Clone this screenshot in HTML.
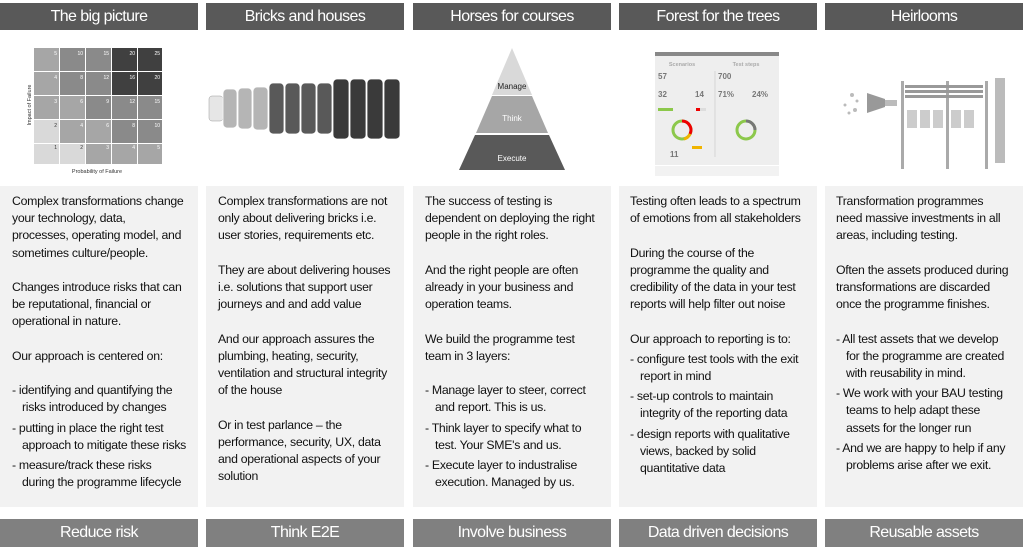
<!DOCTYPE html>
<html><head><meta charset="utf-8"><style>
body{margin:0;width:1024px;height:553px;background:#fff;position:relative;overflow:hidden;font-family:"Liberation Sans",Arial,sans-serif;}
.h,.f{position:absolute;width:198px;height:27px;color:#fff;font-size:16px;text-align:center;line-height:27px;letter-spacing:-0.6px}
.h{top:3px;background:#595959}
.f{top:519px;height:28px;line-height:28px;background:#808080}
.p{position:absolute;top:186px;width:198px;height:321px;background:#f2f2f2}
.t{position:absolute;top:193px;width:190px;font-size:12.3px;line-height:17.2px;color:#111;letter-spacing:-0.3px;white-space:nowrap}
.t p{margin:0 0 17.2px 0}
.t .b{padding-left:10px;text-indent:-10px;margin:0 0 3px 0}
</style></head><body>
<div class="h" style="left:0">The big picture</div>
<div class="h" style="left:206px">Bricks and houses</div>
<div class="h" style="left:413px">Horses for courses</div>
<div class="h" style="left:619px">Forest for the trees</div>
<div class="h" style="left:825px">Heirlooms</div>

<svg style="position:absolute;left:0;top:35px" width="200" height="145">
<g font-size="5" fill="#fff" text-anchor="end" font-family="Liberation Sans">
<rect x="34" y="13" width="128" height="116" fill="#fff"/>
<rect x="34" y="13" width="25" height="23" fill="#a6a6a6"/><rect x="60" y="13" width="25" height="23" fill="#8a8a8a"/><rect x="86" y="13" width="25" height="23" fill="#8a8a8a"/><rect x="112" y="13" width="25" height="23" fill="#404040"/><rect x="138" y="13" width="24" height="23" fill="#404040"/>
<rect x="34" y="37" width="25" height="23" fill="#a6a6a6"/><rect x="60" y="37" width="25" height="23" fill="#8a8a8a"/><rect x="86" y="37" width="25" height="23" fill="#8a8a8a"/><rect x="112" y="37" width="25" height="23" fill="#404040"/><rect x="138" y="37" width="24" height="23" fill="#404040"/>
<rect x="34" y="61" width="25" height="23" fill="#a6a6a6"/><rect x="60" y="61" width="25" height="23" fill="#a6a6a6"/><rect x="86" y="61" width="25" height="23" fill="#8a8a8a"/><rect x="112" y="61" width="25" height="23" fill="#8a8a8a"/><rect x="138" y="61" width="24" height="23" fill="#8a8a8a"/>
<rect x="34" y="85" width="25" height="23" fill="#d9d9d9"/><rect x="60" y="85" width="25" height="23" fill="#a6a6a6"/><rect x="86" y="85" width="25" height="23" fill="#a6a6a6"/><rect x="112" y="85" width="25" height="23" fill="#8a8a8a"/><rect x="138" y="85" width="24" height="23" fill="#8a8a8a"/>
<rect x="34" y="109" width="25" height="20" fill="#d9d9d9"/><rect x="60" y="109" width="25" height="20" fill="#d9d9d9"/><rect x="86" y="109" width="25" height="20" fill="#a6a6a6"/><rect x="112" y="109" width="25" height="20" fill="#a6a6a6"/><rect x="138" y="109" width="24" height="20" fill="#a6a6a6"/>
<text x="57" y="20">5</text><text x="83" y="20">10</text><text x="109" y="20">15</text><text x="135" y="20">20</text><text x="160" y="20">25</text>
<text x="57" y="44">4</text><text x="83" y="44">8</text><text x="109" y="44">12</text><text x="135" y="44">16</text><text x="160" y="44">20</text>
<text x="57" y="68">3</text><text x="83" y="68">6</text><text x="109" y="68">9</text><text x="135" y="68">12</text><text x="160" y="68">15</text>
<text x="57" y="92" fill="#333">2</text><text x="83" y="92">4</text><text x="109" y="92">6</text><text x="135" y="92">8</text><text x="160" y="92">10</text>
<text x="57" y="114" fill="#333">1</text><text x="83" y="114" fill="#333">2</text><text x="109" y="114">3</text><text x="135" y="114">4</text><text x="160" y="114">5</text>
</g>
<text x="97" y="138" font-size="5.5" text-anchor="middle" fill="#333" font-family="Liberation Sans">Probability of Failure</text>
<text transform="translate(31,70) rotate(-90)" font-size="5.5" text-anchor="middle" fill="#333" font-family="Liberation Sans">Impact of Failure</text>
</svg>

<svg style="position:absolute;left:206px;top:35px" width="200" height="145">
<rect x="3" y="61" width="14" height="25" rx="3" fill="#e6e6e6" stroke="#999" stroke-width=".5"/>
<rect x="17" y="54" width="14" height="39" rx="4" fill="#b5b5b5" stroke="#fff" stroke-width=".8"/>
<rect x="32" y="53" width="14" height="41" rx="4" fill="#b5b5b5" stroke="#fff" stroke-width=".8"/>
<rect x="47" y="52" width="15" height="43" rx="4" fill="#b5b5b5" stroke="#fff" stroke-width=".8"/>
<rect x="63" y="48" width="15" height="51" rx="4" fill="#595959" stroke="#fff" stroke-width=".8"/>
<rect x="79" y="48" width="15" height="51" rx="4" fill="#595959" stroke="#fff" stroke-width=".8"/>
<rect x="95" y="48" width="15" height="51" rx="4" fill="#595959" stroke="#fff" stroke-width=".8"/>
<rect x="111" y="48" width="15" height="51" rx="4" fill="#595959" stroke="#fff" stroke-width=".8"/>
<rect x="127" y="44" width="16" height="60" rx="4" fill="#3a3a3a" stroke="#fff" stroke-width=".8"/>
<rect x="144" y="44" width="16" height="60" rx="4" fill="#3a3a3a" stroke="#fff" stroke-width=".8"/>
<rect x="161" y="44" width="16" height="60" rx="4" fill="#3a3a3a" stroke="#fff" stroke-width=".8"/>
<rect x="178" y="44" width="16" height="60" rx="4" fill="#3a3a3a" stroke="#fff" stroke-width=".8"/>
</svg>

<svg style="position:absolute;left:413px;top:35px" width="200" height="145">
<polygon points="99,13 119,60 79,60" fill="#d9d9d9"/>
<polygon points="79,61 119,61 135,98 63,98" fill="#a6a6a6"/>
<polygon points="62,100 136,100 152,135 46,135" fill="#595959"/>
<text x="99" y="54" font-size="8" text-anchor="middle" fill="#222" font-family="Liberation Sans">Manage</text>
<text x="99" y="86" font-size="8" text-anchor="middle" fill="#fff" font-family="Liberation Sans">Think</text>
<text x="99" y="126" font-size="8" text-anchor="middle" fill="#fff" font-family="Liberation Sans">Execute</text>
</svg>

<svg style="position:absolute;left:619px;top:35px" width="200" height="145">
<rect x="36" y="17" width="124" height="113" fill="#eee"/>
<rect x="36" y="17" width="124" height="4" fill="#888"/>
<text x="63" y="31" font-size="5.5" fill="#aaa" text-anchor="middle" font-family="Liberation Sans" font-weight="bold">Scenarios</text>
<text x="127" y="31" font-size="5.5" fill="#aaa" text-anchor="middle" font-family="Liberation Sans" font-weight="bold">Test steps</text>
<g font-family="Liberation Sans" font-weight="bold" fill="#777">
<text x="39" y="44" font-size="8">57</text><text x="99" y="44" font-size="8">700</text>
<text x="39" y="62" font-size="8">32</text><text x="76" y="62" font-size="8">14</text>
<text x="99" y="62" font-size="8">71%</text><text x="133" y="62" font-size="8">24%</text>
<text x="51" y="122" font-size="8">11</text></g>
<line x1="96" y1="36" x2="96" y2="122" stroke="#bbb" stroke-width=".5"/>
<rect x="39" y="73" width="15" height="3" fill="#8cc84b"/><rect x="77" y="73" width="10" height="3" fill="#ddd"/><rect x="77" y="73" width="4" height="3" fill="#e00"/>
<circle cx="63" cy="95" r="9" fill="none" stroke="#8cc84b" stroke-width="3"/>
<path d="M63 86 A9 9 0 0 1 71 99" fill="none" stroke="#e00" stroke-width="3"/>
<path d="M71 99 A9 9 0 0 1 65 104" fill="none" stroke="#f0b400" stroke-width="3"/>
<rect x="73" y="111" width="10" height="3" fill="#f0b400"/>
<circle cx="127" cy="95" r="9" fill="none" stroke="#8cc84b" stroke-width="3"/>
<path d="M127 86 A9 9 0 0 1 136 95" fill="none" stroke="#777" stroke-width="3"/>
<rect x="36" y="131" width="124" height="10" fill="#f2f2f2"/>
</svg>

<svg style="position:absolute;left:825px;top:35px" width="200" height="145">
<g fill="#bbb"><circle cx="27" cy="60" r="2"/><circle cx="32" cy="66" r="1.5"/><circle cx="20" cy="70" r="1.5"/><circle cx="30" cy="75" r="2"/><circle cx="24" cy="78" r="1.5"/></g>
<polygon points="42,58 60,64 60,72 42,78" fill="#999"/>
<rect x="60" y="65" width="12" height="6" fill="#bbb"/>
<rect x="76" y="46" width="3" height="88" fill="#aaa"/><rect x="121" y="46" width="3" height="88" fill="#aaa"/><rect x="160" y="46" width="3" height="88" fill="#aaa"/>
<rect x="80" y="50" width="78" height="3" fill="#999"/><rect x="80" y="55" width="78" height="3" fill="#999"/><rect x="80" y="60" width="78" height="3" fill="#999"/>
<g fill="#ccc"><rect x="82" y="75" width="10" height="18"/><rect x="95" y="75" width="10" height="18"/><rect x="108" y="75" width="10" height="18"/><rect x="126" y="75" width="10" height="18"/><rect x="139" y="75" width="10" height="18"/></g>
<polygon points="170,43 180,43 180,128 170,128" fill="#bbb"/>
</svg>

<div class="p" style="left:0"></div>
<div class="p" style="left:206px"></div>
<div class="p" style="left:413px"></div>
<div class="p" style="left:619px"></div>
<div class="p" style="left:825px"></div>

<div class="t" style="left:12px">
<p>Complex transformations change<br>your technology, data,<br>processes, operating model, and<br>sometimes culture/people.</p>
<p>Changes introduce risks that can<br>be reputational, financial or<br>operational in nature.</p>
<p>Our approach is centered on:</p>
<div class="b">- identifying and quantifying the<br>risks introduced by changes</div>
<div class="b">- putting in place the right test<br>approach to mitigate these risks</div>
<div class="b">- measure/track these risks<br>during the programme lifecycle</div>
</div>
<div class="t" style="left:218px">
<p>Complex transformations are not<br>only about delivering bricks i.e.<br>user stories, requirements etc.</p>
<p>They are about delivering houses<br>i.e. solutions that support user<br>journeys and and add value</p>
<p>And our approach assures the<br>plumbing, heating, security,<br>ventilation and structural integrity<br>of the house</p>
<p>Or in test parlance – the<br>performance, security, UX, data<br>and operational aspects of your<br>solution</p>
</div>
<div class="t" style="left:425px">
<p>The success of testing is<br>dependent on deploying the right<br>people in the right roles.</p>
<p>And the right people are often<br>already in your business and<br>operation teams.</p>
<p>We build the programme test<br>team in 3 layers:</p>
<div class="b">- Manage layer to steer, correct<br>and report. This is us.</div>
<div class="b">- Think layer to specify what to<br>test. Your SME's and us.</div>
<div class="b">- Execute layer to industralise<br>execution. Managed by us.</div>
</div>
<div class="t" style="left:630px">
<p>Testing often leads to a spectrum<br>of emotions from all stakeholders</p>
<p>During the course of the<br>programme the quality and<br>credibility of the data in your test<br>reports will help filter out noise</p>
<p style="margin-bottom:3px">Our approach to reporting is to:</p>
<div class="b">- configure test tools with the exit<br>report in mind</div>
<div class="b">- set-up controls to maintain<br>integrity of the reporting data</div>
<div class="b">- design reports with qualitative<br>views, backed by solid<br>quantitative data</div>
</div>
<div class="t" style="left:836px">
<p>Transformation programmes<br>need massive investments in all<br>areas, including testing.</p>
<p>Often the assets produced during<br>transformations are discarded<br>once the programme finishes.</p>
<div class="b">- All test assets that we develop<br>for the programme are created<br>with reusability in mind.</div>
<div class="b">- We work with your BAU testing<br>teams to help adapt these<br>assets for the longer run</div>
<div class="b">- And we are happy to help if any<br>problems arise after we exit.</div>
</div>

<div class="f" style="left:0">Reduce risk</div>
<div class="f" style="left:206px">Think E2E</div>
<div class="f" style="left:413px">Involve business</div>
<div class="f" style="left:619px">Data driven decisions</div>
<div class="f" style="left:825px">Reusable assets</div>
</body></html>
